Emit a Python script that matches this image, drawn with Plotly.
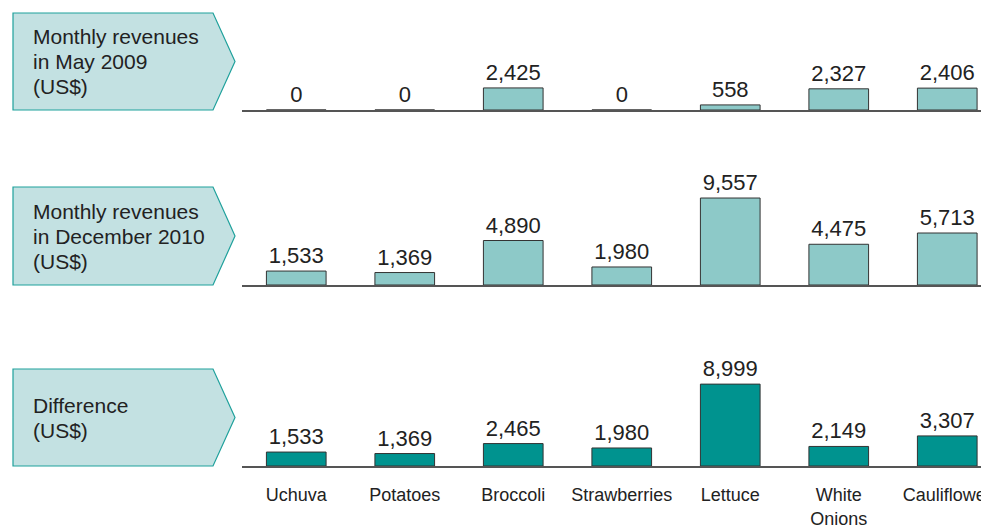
import plotly.graph_objects as go

categories = ["Uchuva", "Potatoes", "Broccoli", "Strawberries", "Lettuce", "White<br>Onions", "Cauliflower"]
may_2009 = [0, 0, 2425, 0, 558, 2327, 2406]
dec_2010 = [1533, 1369, 4890, 1980, 9557, 4475, 5713]
difference = [1533, 1369, 2465, 1980, 8999, 2149, 3307]
panel_titles = [["Monthly revenues", "in May 2009", "(US$)"],
                ["Monthly revenues", "in December 2010", "(US$)"],
                ["Difference", "(US$)"]]

W, H = 989, 529
OFF = 8  # page body margin offset
FONT = "Liberation Sans, Arial, sans-serif"
LIGHT = "#8DC9C8"
DARK = "#00938F"

def px(x):
    return (x - OFF) / W

def py(y):
    return 1 - (y - OFF) / H

# pixel layout of panels (screen coords): (baseline, top of axis area)
panels = [(110, 10), (285, 185), (466, 366)]
scale = 0.0091  # px per unit
yrange = [0, 100 / scale]

fig = go.Figure()
series = [may_2009, dec_2010, difference]
colors = [LIGHT, LIGHT, DARK]
for i, (vals, col) in enumerate(zip(series, colors)):
    n = "" if i == 0 else str(i + 1)
    fig.add_trace(go.Bar(
        x=categories, y=vals, width=0.55,
        marker=dict(color=col, line=dict(color="#333333", width=1)),
        text=[f"{v:,}" for v in vals], textposition="outside",
        textfont=dict(family=FONT, size=22, color="#222222"),
        cliponaxis=False, xaxis="x" + n, yaxis="y" + n, hoverinfo="skip",
        showlegend=False,
    ))

layout = dict(
    width=W, height=H, margin=dict(l=0, r=0, t=0, b=0),
    paper_bgcolor="white", plot_bgcolor="white",
    font=dict(family=FONT, color="#222222"),
)
x0 = 242
unit = 108.5
span = (W + OFF - x0) / unit
for i, (base, top) in enumerate(panels):
    n = "" if i == 0 else str(i + 1)
    layout["xaxis" + n] = dict(
        domain=[px(x0), 1], range=[-0.5, -0.5 + span],
        anchor="y" + n, showline=True, linecolor="#555555", linewidth=1.5,
        showgrid=False, zeroline=False, ticks="",
        showticklabels=(i == 2), tickfont=dict(family=FONT, size=18, color="#222222"),
        ticklabelstandoff=12,
        fixedrange=True,
    )
    layout["yaxis" + n] = dict(
        domain=[py(base), py(top)], range=yrange, anchor="x" + n,
        visible=False, fixedrange=True,
    )

fig.update_layout(**layout)

arrows = [(13, 110), (187, 285), (369, 466)]
for (top, bot), lines in zip(arrows, panel_titles):
    mid = (top + bot) / 2
    path = (f"M {px(13)} {py(top)} L {px(213)} {py(top)} L {px(235)} {py(mid)} "
            f"L {px(213)} {py(bot)} L {px(13)} {py(bot)} Z")
    fig.add_shape(type="path", path=path, xref="paper", yref="paper",
                  fillcolor="#C3E1E2", line=dict(color="#1FA19C", width=1.2), layer="below")
    nl = len(lines)
    for k, line in enumerate(lines):
        yc = mid + (k - (nl - 1) / 2) * 25
        fig.add_annotation(x=px(31), y=py(yc), xref="paper", yref="paper",
                           text=line, showarrow=False, xanchor="left", yanchor="middle",
                           align="left", font=dict(family=FONT, size=21, color="#222222"))

fig.write_html("out.html")
